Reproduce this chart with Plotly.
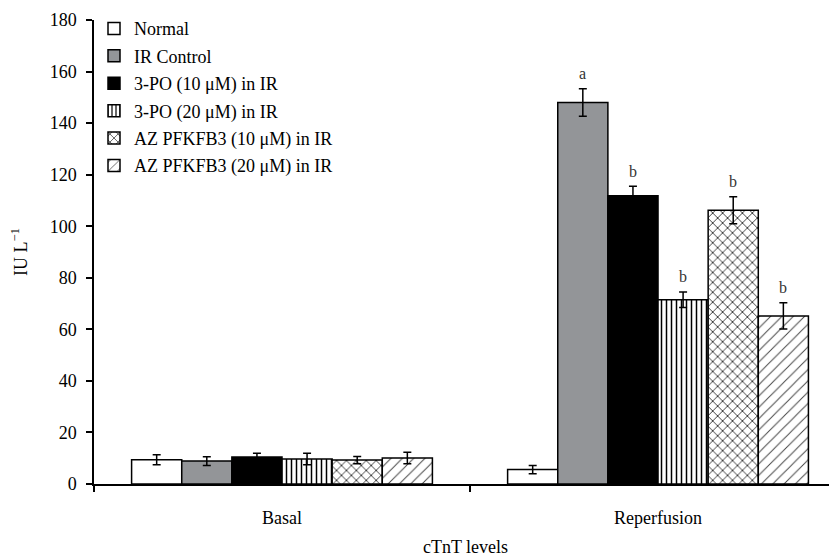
import plotly.graph_objects as go

categories = ["Basal", "Reperfusion"]
series_names = ["Normal", "IR Control", "3-PO (10 μM) in IR", "3-PO (20 μM) in IR",
                "AZ PFKFB3 (10 μM) in IR", "AZ PFKFB3 (20 μM) in IR"]
normal = [9.4, 5.6]
normal_err = [1.9, 1.6]
ir_control = [8.9, 148.0]
ir_control_err = [1.7, 5.3]
po_10 = [10.5, 111.8]
po_10_err = [1.4, 3.7]
po_20 = [9.7, 71.5]
po_20_err = [2.2, 3.0]
az_10 = [9.3, 106.2]
az_10_err = [1.4, 5.2]
az_20 = [10.1, 65.2]
az_20_err = [2.2, 5.1]
sig_letters = ["", "a", "b", "b", "b", "b"]  # Reperfusion group only

values = [normal, ir_control, po_10, po_20, az_10, az_20]
errors = [normal_err, ir_control_err, po_10_err, po_20_err, az_10_err, az_20_err]

styles = [
    dict(color="white", pattern=None),
    dict(color="#939598", pattern=None),
    dict(color="black", pattern=None),
    dict(color="white", pattern=dict(shape="|", fgcolor="black", bgcolor="white", size=5, solidity=0.3, fillmode="replace")),
    dict(color="white", pattern=dict(shape="x", fgcolor="black", bgcolor="white", size=7, solidity=0.2, fillmode="replace")),
    dict(color="white", pattern=dict(shape="/", fgcolor="#444444", bgcolor="white", size=8, solidity=0.12, fillmode="replace")),
]

SERIF = "Liberation Serif"
bargap = 0.2

fig = go.Figure()
for k, (name, v, e, st) in enumerate(zip(series_names, values, errors, styles)):
    marker = dict(color=st["color"], line=dict(color="black", width=1.5))
    if st["pattern"]:
        marker["pattern"] = st["pattern"]
    fig.add_trace(go.Bar(
        name=name, x=categories, y=v, legendgroup=f"g{k}",
        marker=marker,
        error_y=dict(type="data", array=e, visible=True, color="black", thickness=1.5, width=4),
    ))

# significance letters above reperfusion bars
n = len(series_names)
bw = (1 - bargap) / n
for i in range(n):
    if sig_letters[i]:
        xc = 1 - (1 - bargap) / 2 + (i + 0.5) * bw
        fig.add_annotation(
            x=xc, y=values[i][1] + errors[i][1], xref="x", yref="y",
            text=sig_letters[i], showarrow=False, yanchor="middle", yshift=15,
            font=dict(family=SERIF, size=16, color="#333333"),
        )

fig.update_layout(
    width=837, height=560,
    margin=dict(l=86, r=8, t=12, b=84, autoexpand=False),
    paper_bgcolor="white", plot_bgcolor="white",
    barmode="group", bargap=bargap, bargroupgap=0,
    font=dict(family=SERIF, size=18, color="black"),
    showlegend=True,
    legend=dict(x=0.0, y=1.021, xanchor="left", yanchor="top",
                bgcolor="rgba(0,0,0,0)", font=dict(family=SERIF, size=18),
                tracegroupgap=1, itemwidth=30),
    xaxis=dict(
        range=[-0.5, 1.476], type="category", automargin=False,
        showline=True, linecolor="black", linewidth=1.5,
        ticks="outside", ticklen=6, tickwidth=1.5, tickcolor="black",
        tickson="boundaries", ticklabelstandoff=17,
        title=dict(text="cTnT levels", standoff=13, font=dict(family=SERIF, size=18)),
        showgrid=False, zeroline=False,
        tickfont=dict(family=SERIF, size=18),
    ),
    yaxis=dict(
        range=[0, 180], dtick=20, automargin=False,
        showline=True, linecolor="black", linewidth=1.5,
        ticks="outside", ticklen=6, tickwidth=1.5, tickcolor="black",
        ticklabelstandoff=6,
        title=dict(text="IU L<sup>−1</sup>", standoff=18, font=dict(family=SERIF, size=18)),
        showgrid=False, zeroline=False,
        tickfont=dict(family=SERIF, size=18),
    ),
)

fig.write_html("out.html")
